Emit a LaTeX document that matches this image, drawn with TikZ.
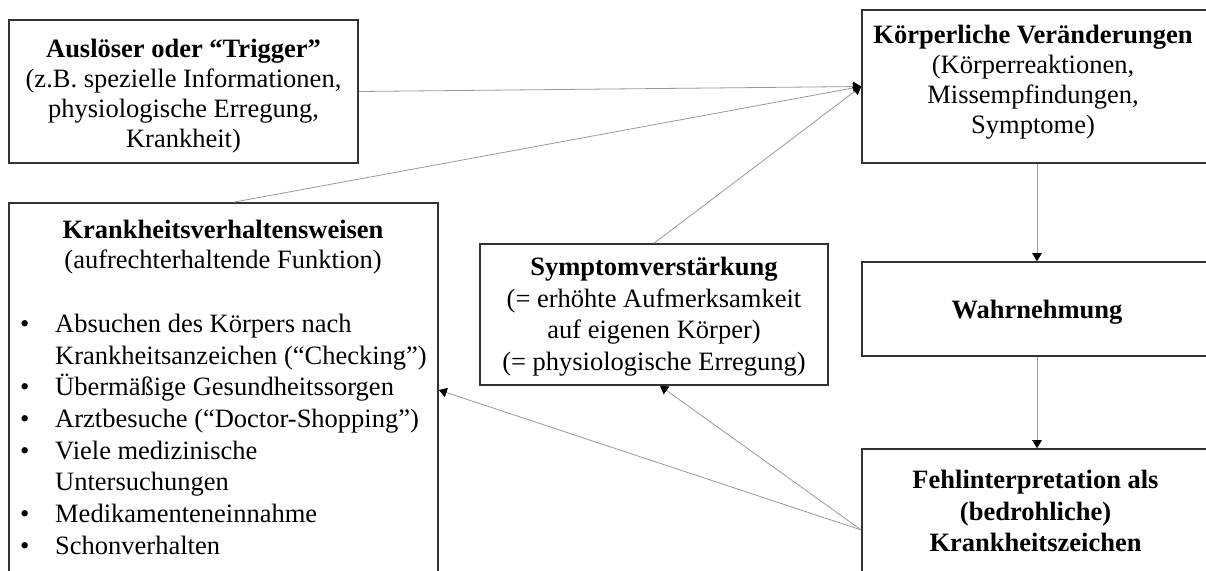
\documentclass[tikz,border=0pt]{standalone}
\usepackage{fontspec}
\setmainfont{Liberation Serif}
\usetikzlibrary{arrows.meta,calc}
\definecolor{boxc}{HTML}{333333}
\definecolor{linec}{HTML}{999999}
\begin{document}
\begin{tikzpicture}[x=1pt,y=-1pt,
  box/.style={draw=boxc, line width=1.6pt, inner sep=0pt},
  conn/.style={draw=linec, line width=0.8pt, -{Triangle[length=8pt,width=9.5pt,color=black]}},
  txt/.style={align=center, inner sep=0pt, font=\fontsize{26.5}{30}\selectfont},
  txtb/.style={align=center, inner sep=0pt, font=\fontsize{26.5}{31.5}\selectfont}]
\useasboundingbox (0,0) rectangle (1206,570);
\clip (0,0) rectangle (1206,570);
\fill[white] (0,0) rectangle (1206,570);
% boxes
\node[box, minimum width=349pt, minimum height=143pt] (trig) at (183.5,91.5) {};
\node[box, minimum width=350pt, minimum height=153pt] (koerp) at (1037,86.5) {};
\node[box, minimum width=429pt, minimum height=374pt] (kv) at (223.5,390) {};
\node[box, minimum width=348pt, minimum height=141pt] (sv) at (654,314.5) {};
\node[box, minimum width=350pt, minimum height=94pt] (wahr) at (1037,309) {};
\node[box, minimum width=350pt, minimum height=162pt] (fehl) at (1037,530) {};
% texts
\node[txt] (trigtxt) at (183.5,96) {\textbf{Auslöser oder “Trigger”}\\(z.B. spezielle Informationen,\\physiologische Erregung,\\Krankheit)};
\node[txt] (koerptxt) at (1033,82) {\textbf{Körperliche Veränderungen}\\(Körperreaktionen,\\Missempfindungen,\\Symptome)};
\node[txt] (kvtitle) at (223,247) {\textbf{Krankheitsverhaltensweisen}\\(aufrechterhaltende Funktion)};
\node[inner sep=0pt, anchor=west, font=\fontsize{26.5}{31.7}\selectfont] (kvlist) at (20,437) {%
\begin{tabular}{@{}p{35pt}@{}l@{}}
•& Absuchen des Körpers nach\\
 & Krankheitsanzeichen (“Checking”)\\
•& Übermäßige Gesundheitssorgen\\
•& Arztbesuche (“Doctor-Shopping”)\\
•& Viele medizinische\\
 & Untersuchungen\\
•& Medikamenteneinnahme\\
•& Schonverhalten
\end{tabular}};
\node[txtb] (svtxt) at (654,316.5) {\textbf{Symptomverstärkung}\\(= erhöhte Aufmerksamkeit\\auf eigenen Körper)\\(= physiologische Erregung)};
\node[txt] (wahrtxt) at (1037,312) {\textbf{Wahrnehmung}};
\node[txtb] (fehltxt) at (1035.5,511) {\textbf{Fehlinterpretation als}\\\textbf{(bedrohliche)}\\\textbf{Krankheitszeichen}};
% connectors
\draw[conn] (trig.east) -- (koerp.west);
\draw[conn] ($(kv.north)+(10,0)$) -- (koerp.west);
\draw[conn] (sv.north) -- (koerp.west);
\draw[conn] (koerp.south) -- (wahr.north);
\draw[conn] (wahr.south) -- (fehl.north);
\draw[conn] (fehl.west) -- (kv.east);
\draw[conn] (fehl.west) -- ($(sv.south)+(6,0)$);
\end{tikzpicture}
\end{document}
